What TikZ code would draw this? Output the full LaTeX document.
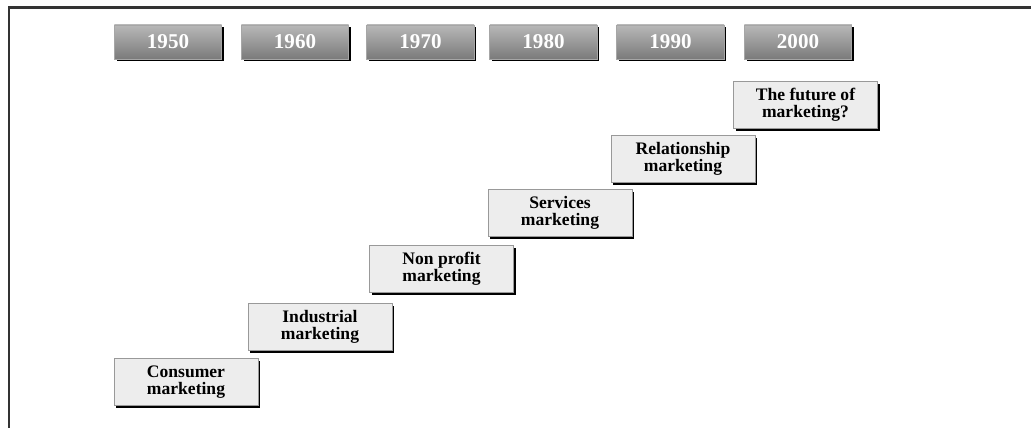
\documentclass[tikz,border=0pt]{standalone}
\usepackage{fontspec}
\setmainfont{Liberation Serif}
\usetikzlibrary{shadows}

\tikzset{
	yearbox/.style={rectangle, draw=black!35, top color=black!28, bottom color=black!52,
		minimum width=2.15cm, minimum height=0.68cm, inner sep=0pt,
		text=white, font=\fontsize{12}{12}\selectfont\bfseries,
		drop shadow={shadow xshift=0.045cm, shadow yshift=-0.05cm, fill=black, opacity=1}},
	stagebox/.style={rectangle, draw=black!40, fill=black!7,
		minimum width=2.88cm, minimum height=0.94cm, inner sep=0pt, align=center,
		font=\fontsize{10}{9.6}\selectfont\bfseries,
		drop shadow={shadow xshift=0.045cm, shadow yshift=-0.055cm, fill=black, opacity=1}}
}

\begin{document}
\begin{tikzpicture}[x=0.02cm, y=-0.02cm]
	\useasboundingbox (0, 0) rectangle (1031, 428);

	% frame, only top and left
	\draw[line width=1.7pt, black!80] (1031, 8) -- (9, 8) -- (9, 428);

	% decades
	\foreach \yr/\xx in {1950/168, 1960/295, 1970/420.5, 1980/543.5, 1990/670.5, 2000/798}
		\node[yearbox] (y\yr) at (\xx, 42) {\yr};

	% the stages, one step up for each decade
	\node[stagebox] (consumer) at (186, 382) {Consumer\\marketing};
	\node[stagebox] (industrial) at (320, 327) {Industrial\\marketing};
	\node[stagebox] (nonprofit) at (441.5, 269) {Non profit\\marketing};
	\node[stagebox] (services) at (560, 213) {Services\\marketing};
	\node[stagebox] (relationship) at (683, 159) {Relationship\\marketing};
	\node[stagebox] (future) at (805.5, 105) {The future of\\marketing?};
\end{tikzpicture}
\end{document}
